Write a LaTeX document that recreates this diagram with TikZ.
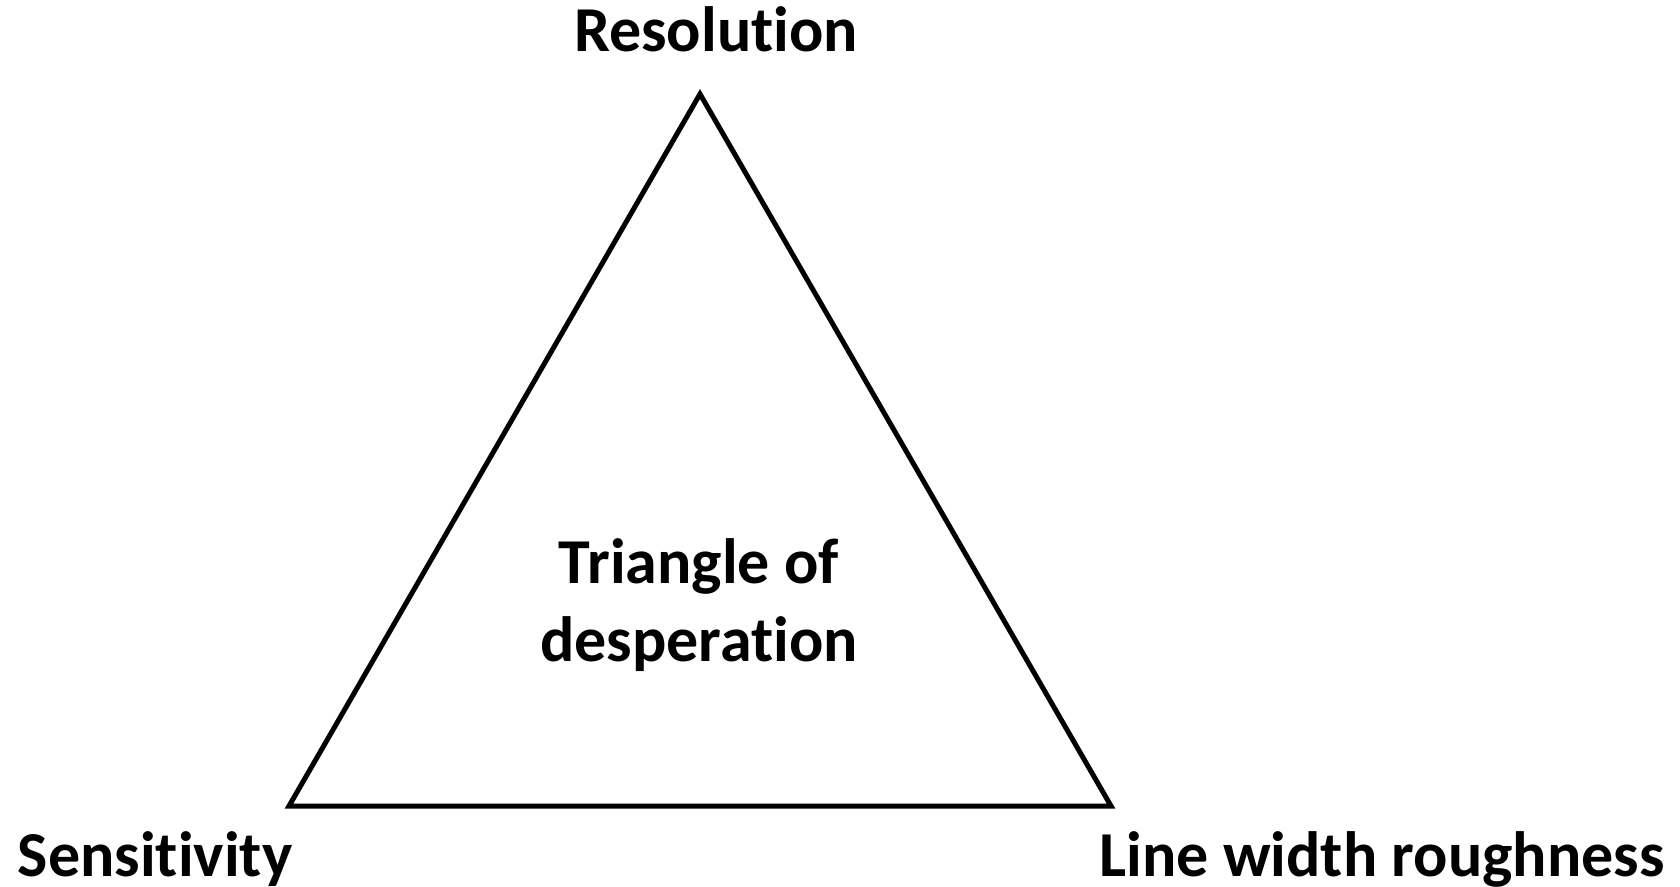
\documentclass[tikz,border=0pt]{standalone}
\usepackage{fontspec}
\setmainfont{Carlito}[Ligatures=NoCommon]
\usepackage{tikz}
\usetikzlibrary{positioning,calc}

\begin{document}
\begin{tikzpicture}[x=1pt,y=-1pt,
   corner/.style={font=\fontsize{64}{78}\selectfont\bfseries,inner sep=0pt,anchor=base},
   edge/.style={draw,line width=5pt,line join=miter}]
  \useasboundingbox (0,0) rectangle (1680,886);
  % vertices of the triangle
  \coordinate (top) at (700,94);
  \coordinate (sens) at (289,806);
  \coordinate (lwr) at (1111,806);
  \draw[edge] (top) -- (sens) -- (lwr) -- cycle;
  % corner labels
  \node[corner] (res) at (716,51) {Resolution};
  \node[corner] (sl) at (155,876) {Sensitivity};
  \node[corner] (ll) at (1382,876) {Line width roughness};
  % centre text
  \node[corner,align=center] (tod) at (699,661) {Triangle of\\desperation};
\end{tikzpicture}
\end{document}
